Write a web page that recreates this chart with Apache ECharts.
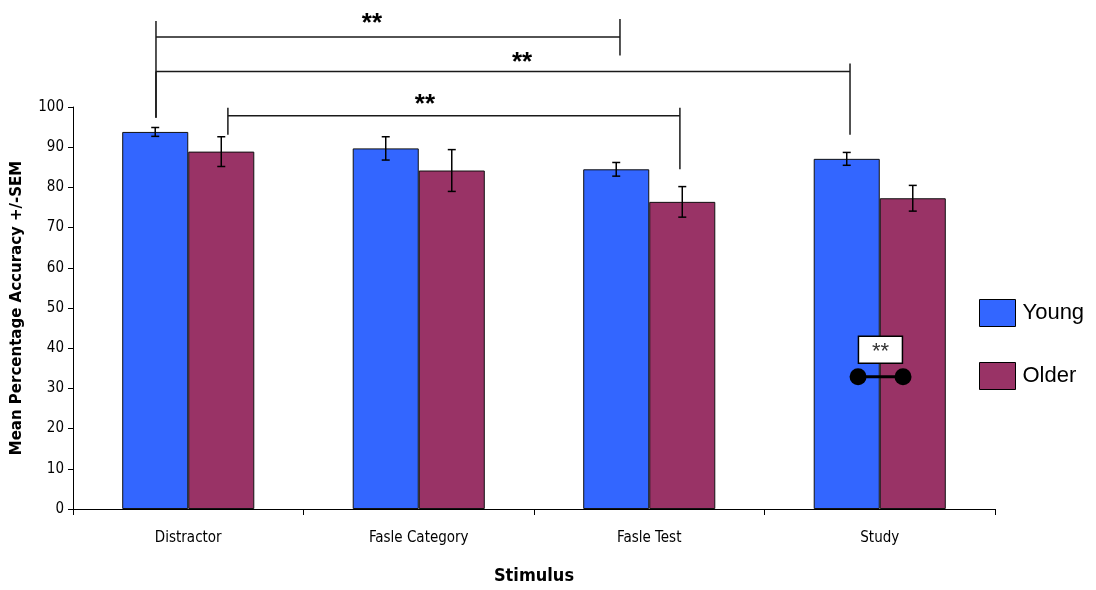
<!DOCTYPE html>
<html>
<head>
<meta charset="utf-8">
<script src="https://cdn.jsdelivr.net/npm/echarts@6/dist/echarts.min.js"></script>
<style>html,body{margin:0;padding:0;background:#fff;}#c{width:1096px;height:590px;}</style>
</head>
<body>
<div id="c"></div>
<script>
var categories = ['Distractor', 'Fasle Category', 'Fasle Test', 'Study'];
var young = [93.8, 89.7, 84.5, 87.1];
var older = [88.9, 84.2, 76.4, 77.3];
var youngErr = [1.1, 2.9, 1.7, 1.6];
var olderErr = [3.7, 5.2, 3.8, 3.2];
var yTicks = [0, 10, 20, 30, 40, 50, 60, 70, 80, 90, 100];
// significance brackets in (category-units, value) coordinates: [x1, x2, yLine, yLeftTop, yLeftBottom, yRightTop, yRightBottom]
var brackets = [
  [0.360, 2.373, 117.4, 121.4, 97.3, 121.9, 112.8],
  [0.360, 3.371, 108.8, 108.8, 97.3, 110.8, 93.1],
  [0.672, 2.633, 97.8, 99.8, 93.1, 99.8, 84.5]
];
var starLabels = [[1.297, 120.6], [1.948, 111.0], [1.527, 100.6]];
var marker = { box: [3.503, 39.6], dots: [[3.406, 32.9], [3.601, 32.9]] };

var BAR_CAT_GAP = 0.427;
var chart = echarts.init(document.getElementById('c'), null, { renderer: 'canvas' });
var narrow = '"Liberation Sans Narrow", "DejaVu Sans Condensed", "Liberation Sans", Arial, sans-serif';
var sans = '"Liberation Sans", Arial, sans-serif';

function errData(vals, errs) {
  return vals.map(function (v, i) { return [i, v, v - errs[i], v + errs[i]]; });
}
function errRender(side) {
  return function (params, api) {
    var idx = api.value(0);
    var lo = api.coord([idx, api.value(2)]);
    var hi = api.coord([idx, api.value(3)]);
    var band = api.size([1, 0])[0];
    var bw = band * (1 - BAR_CAT_GAP) / 2;
    var x = lo[0] + side * bw / 2;
    var cap = 4;
    var st = { stroke: '#000', lineWidth: 1.5 };
    return { type: 'group', children: [
      { type: 'line', shape: { x1: x, y1: lo[1], x2: x, y2: hi[1] }, style: st },
      { type: 'line', shape: { x1: x - cap, y1: lo[1], x2: x + cap, y2: lo[1] }, style: st },
      { type: 'line', shape: { x1: x - cap, y1: hi[1], x2: x + cap, y2: hi[1] }, style: st }
    ]};
  };
}

var option = {
  animation: false,
  backgroundColor: '#fff',
  grid: { left: 73, right: 101, top: 107, bottom: 76, containLabel: false },
  legend: {
    orient: 'vertical', left: 974, top: 294, itemWidth: 36, itemHeight: 27, itemGap: 35,
    icon: 'rect',
    textStyle: { fontFamily: sans, fontSize: 22, color: '#000', padding: [0, 0, 0, 2] },
    itemStyle: { borderColor: '#000', borderWidth: 1 },
    data: ['Young', 'Older']
  },
  xAxis: [
    {
      type: 'category', data: categories,
      axisLine: { lineStyle: { color: '#000', width: 1 } },
      axisTick: { show: true, length: 6, lineStyle: { color: '#000' } },
      axisLabel: { fontFamily: narrow, fontSize: 15, color: '#000', margin: 22 },
      name: 'Stimulus', nameLocation: 'middle', nameGap: 58,
      nameTextStyle: { fontFamily: narrow, fontSize: 18, fontWeight: 'bold', color: '#000' }
    },
    { type: 'value', min: 0, max: 4, show: false }
  ],
  yAxis: [
    {
      type: 'value', min: 0, max: 100, interval: 10,
      axisLine: { show: true, lineStyle: { color: '#000', width: 1 } },
      axisTick: { show: true, length: 5, lineStyle: { color: '#000' } },
      splitLine: { show: false },
      axisLabel: { fontFamily: narrow, fontSize: 15, color: '#000', margin: 9,
        formatter: function (v) { return yTicks.indexOf(v) >= 0 ? String(v) : ''; } },
      name: 'Mean Percentage Accuracy +/-SEM', nameLocation: 'middle', nameGap: 48,
      nameTextStyle: { fontFamily: '"DejaVu Sans", sans-serif', fontSize: 15, fontWeight: 'bold', color: '#000' }
    },
    { type: 'value', min: 0, max: 100, show: false }
  ],
  series: [
    { name: 'Young', type: 'bar', data: young, barGap: '0%', barCategoryGap: (BAR_CAT_GAP * 100) + '%',
      itemStyle: { color: '#3366FF', borderColor: '#111', borderWidth: 1 } },
    { name: 'Older', type: 'bar', data: older, barGap: '0%', barCategoryGap: (BAR_CAT_GAP * 100) + '%',
      itemStyle: { color: '#993366', borderColor: '#111', borderWidth: 1 } },
    { type: 'custom', data: errData(young, youngErr), renderItem: errRender(-1), z: 5, silent: true },
    { type: 'custom', data: errData(older, olderErr), renderItem: errRender(1), z: 5, silent: true },
    { type: 'custom', xAxisIndex: 1, yAxisIndex: 1, clip: false, silent: true, z: 6,
      data: brackets,
      renderItem: function (params, api) {
        var st = { stroke: '#1a1a1a', lineWidth: 1.5 };
        var a = api.coord([api.value(0), api.value(2)]);
        var b = api.coord([api.value(1), api.value(2)]);
        var lt = api.coord([api.value(0), api.value(3)]);
        var lb = api.coord([api.value(0), api.value(4)]);
        var rt = api.coord([api.value(1), api.value(5)]);
        var rb = api.coord([api.value(1), api.value(6)]);
        return { type: 'group', children: [
          { type: 'line', shape: { x1: a[0], y1: a[1], x2: b[0], y2: b[1] }, style: st },
          { type: 'line', shape: { x1: lt[0], y1: lt[1], x2: lb[0], y2: lb[1] }, style: st },
          { type: 'line', shape: { x1: rt[0], y1: rt[1], x2: rb[0], y2: rb[1] }, style: st }
        ]};
      }
    },
    { type: 'custom', xAxisIndex: 1, yAxisIndex: 1, clip: false, silent: true, z: 6,
      data: starLabels,
      renderItem: function (params, api) {
        var p = api.coord([api.value(0), api.value(1)]);
        return { type: 'text', x: p[0], y: p[1], style: { text: '**', fontFamily: sans, fontSize: 26, fontWeight: 'bold', fill: '#000', align: 'center', verticalAlign: 'middle' } };
      }
    },
    { type: 'custom', xAxisIndex: 1, yAxisIndex: 1, clip: false, silent: true, z: 7,
      data: [[marker.box[0], marker.box[1], marker.dots[0][0], marker.dots[0][1], marker.dots[1][0], marker.dots[1][1]]],
      renderItem: function (params, api) {
        var bx = api.coord([api.value(0), api.value(1)]);
        var d1 = api.coord([api.value(2), api.value(3)]);
        var d2 = api.coord([api.value(4), api.value(5)]);
        return { type: 'group', children: [
          { type: 'line', shape: { x1: d1[0], y1: d1[1], x2: d2[0], y2: d2[1] }, style: { stroke: '#000', lineWidth: 3 } },
          { type: 'circle', shape: { cx: d1[0], cy: d1[1], r: 8.5 }, style: { fill: '#000' } },
          { type: 'circle', shape: { cx: d2[0], cy: d2[1], r: 8.5 }, style: { fill: '#000' } },
          { type: 'rect', shape: { x: bx[0] - 22, y: bx[1] - 13.5, width: 44, height: 27 }, style: { fill: '#fff', stroke: '#000', lineWidth: 1.5 } },
          { type: 'text', x: bx[0], y: bx[1] + 2, style: { text: '**', fontFamily: sans, fontSize: 22, fill: '#333', align: 'center', verticalAlign: 'middle' } }
        ]};
      }
    }
  ]
};
chart.setOption(option);
</script>
</body>
</html>
